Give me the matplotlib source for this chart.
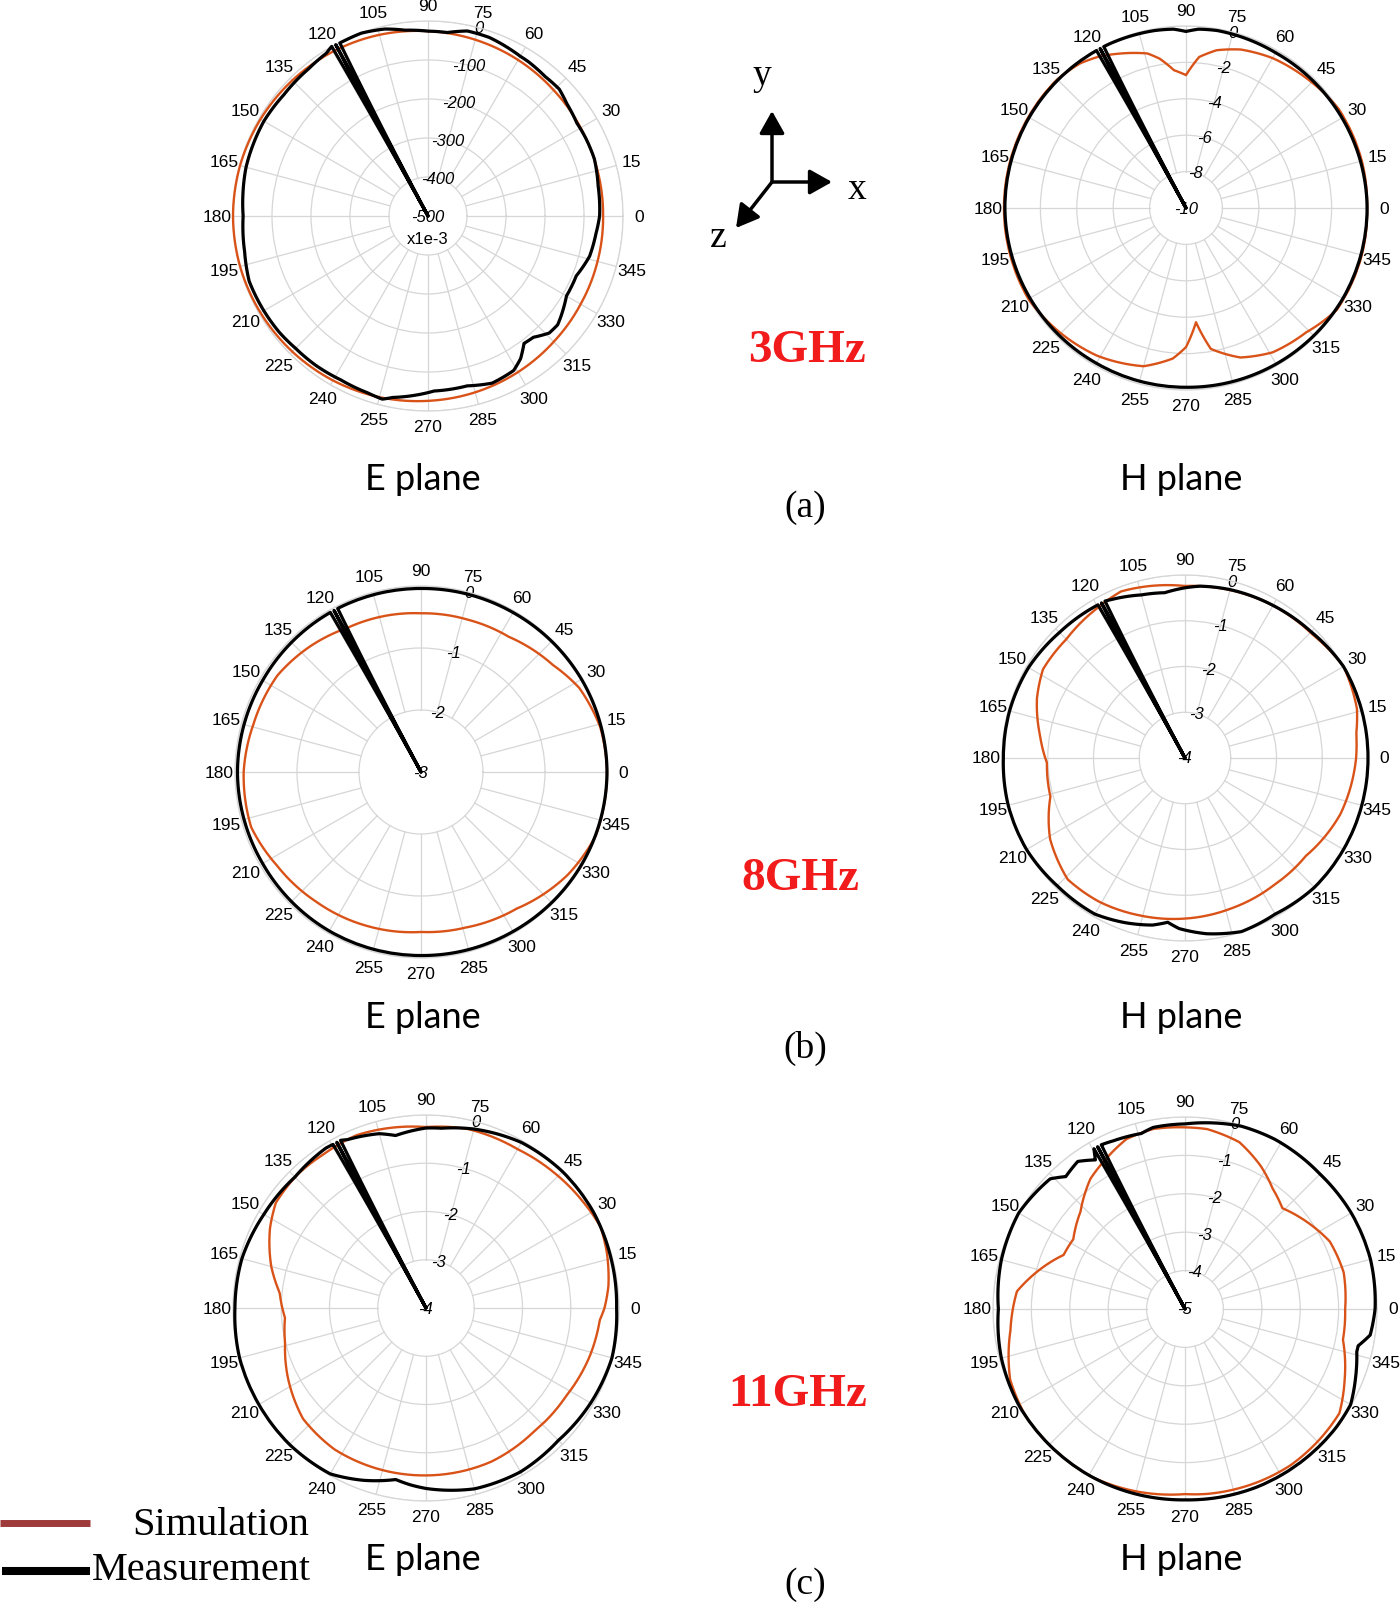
import numpy as np
import matplotlib
matplotlib.use("Agg")
import matplotlib.pyplot as plt
from matplotlib.path import Path
from matplotlib.patches import PathPatch

# =========================
# DATA
# angles in degrees, values in dB (panel (a) E plane in 1e-3 dB)
# =========================
a_e_sim_ang = [0, 15, 30, 45, 60, 75, 90, 105, 120, 135, 150, 165, 180, 195, 210,
               225, 240, 255, 270, 285, 300, 315, 330, 345, 360]
a_e_sim_val = [-51, -50, -48, -44, -38, -32, -26, -19, -13, -8, -4, -1, 0, -1, -4,
               -8, -13, -19, -26, -32, -38, -44, -48, -50, -51]
a_e_meas_ang = [0, 10, 19, 26, 32, 39, 44, 50, 57, 60, 71, 78, 84, 90, 97, 103, 110, 115,
                117, 118, 118.3, 119, 119.6, 122, 129, 140, 150, 165, 173, 180,
                191, 200, 210, 218, 225, 233, 242, 251, 256, 259, 272, 283, 291, 299,
                303, 307, 311, 316, 320, 323, 330, 338, 346, 354, 360]
a_e_meas_val = [-60, -57, -49, -49, -50, -42, -32, -33, -28, -27, -16, -15, -27, -26, -20, -8, -1, -2,
                -2, -500, -1, -500, 0, -8, -14, -17, -14, -17, -22, -26,
                -21, -12, -14, -16, -20, -21, -24, -21, -16, -26, -51, -53, -41, -47,
                -64, -91, -88, -68, -66, -73, -90, -90, -73, -67, -60]

a_h_sim_ang = [0, 15, 33, 47, 60, 71, 79, 85, 90, 95, 100, 104, 109, 113, 120, 126, 135,
               150, 165, 180, 195, 210, 226, 239, 255, 265, 270, 275, 280, 290, 301, 314,
               326, 345, 360]
a_h_sim_val = [-0.05, 0, 0, -0.27, -0.49, -0.79, -1.17, -1.67, -2.7, -2.4, -1.67, -1.25,
               -0.99, -0.78, -0.4, -0.16, 0, 0, 0, 0, 0, 0, -0.29, -0.53, -1.0, -1.7, -2.36,
               -3.7, -2.14, -1.26, -0.75, -0.5, 0, 0, -0.05]
a_h_meas_ang = [0, 30, 60, 80, 86, 90, 94, 100, 115, 117, 118, 118.3, 119, 119.6, 135,
                150, 180, 210, 240, 270, 300, 330, 360]
a_h_meas_val = [-0.05, -0.1, -0.15, -0.1, -0.15, -0.3, -0.15, -0.1, -0.05, -0.05, -10,
                -0.05, -10, -0.05, -0.05, -0.05, -0.05, -0.1, -0.15, -0.15, -0.1, -0.05, -0.05]

b_e_sim_ang = [0, 14, 28, 39, 57, 73, 90, 117, 131, 146, 164, 180, 198, 213, 231, 251,
               270, 286, 305, 325, 340, 350, 360]
b_e_sim_val = [0, -0.02, -0.11, -0.26, -0.40, -0.43, -0.44, -0.39, -0.30, -0.21, -0.19,
               -0.14, -0.12, -0.23, -0.31, -0.37, -0.42, -0.39, -0.31, -0.11, 0, 0, 0]
b_e_meas_ang = [0, 30, 60, 90, 115, 117, 118, 118.3, 119, 119.6, 150, 180, 210, 240,
                270, 300, 330, 360]
b_e_meas_val = [0, -0.01, -0.03, -0.04, -0.04, -0.04, -3, -0.04, -3, -0.04, -0.05,
                -0.04, -0.05, -0.04, -0.04, -0.03, -0.01, 0]

b_h_sim_ang = [0, 8, 16, 30, 44, 60, 75, 90, 111, 121, 135, 148, 158, 171, 182, 196,
               211, 226, 239, 254, 270, 287, 305, 321, 340, 354, 360]
b_h_sim_val = [-0.26, -0.22, -0.09, 0, -0.12, -0.15, -0.20, -0.24, -0.10, -0.21, -0.33,
               -0.34, -0.51, -0.79, -0.98, -0.94, -0.56, -0.31, -0.34, -0.42, -0.49,
               -0.56, -0.61, -0.6, -0.39, -0.30, -0.26]
b_h_meas_ang = [0, 15, 30, 45, 60, 75, 85, 90, 97, 105, 115, 117, 118, 118.3, 119, 119.6,
                135, 150, 165, 180, 195, 210, 225, 240, 250, 259, 264, 268, 277, 288,
                300, 315, 330, 345, 360]
b_h_meas_val = [0, 0, 0, -0.1, -0.15, -0.19, -0.23, -0.28, -0.36, -0.31, -0.18, -0.15,
                -4, -0.15, -4, -0.15, -0.12, -0.05, -0.03, -0.03, 0, 0, -0.05, -0.06,
                -0.17, -0.28, -0.39, -0.27, -0.13, -0.01, -0.06, 0, 0, 0, 0]

c_e_sim_ang = [0, 7, 17, 25, 34, 47, 60, 77, 90, 102, 112, 123, 134, 145, 153, 165, 174,
               184, 194, 207, 222, 237, 253, 270, 293, 311, 328, 344, 356, 360]
c_e_sim_val = [-0.3, -0.19, -0.08, -0.01, -0.07, -0.14, -0.20, -0.19, -0.25, -0.19,
               -0.14, -0.17, -0.16, -0.20, -0.37, -0.68, -0.95, -1.07, -0.99, -0.79,
               -0.57, -0.51, -0.52, -0.53, -0.54, -0.60, -0.57, -0.46, -0.39, -0.3]
c_e_meas_ang = [0, 15, 30, 45, 60, 75, 85, 90, 100, 105, 115, 117, 118, 118.3, 119, 119.6,
                122, 135, 150, 165, 180, 195, 210, 225, 240, 250, 260, 265, 270, 285,
                300, 315, 330, 345, 360]
c_e_meas_val = [-0.05, -0.03, 0, 0, -0.04, -0.16, -0.26, -0.27, -0.37, -0.26, -0.15,
                -0.1, -4, -0.1, -4, -0.1, -0.09, -0.16, -0.12, -0.05, -0.04, 0, 0, 0,
                -0.03, -0.2, -0.39, -0.32, -0.26, -0.12, -0.08, -0.12, -0.06, -0.01, -0.05]

c_h_sim_ang = [0, 13, 25, 36, 46, 54, 62, 72, 83, 90, 100, 109, 118, 126, 137, 148, 156,
               166, 174, 187, 202, 214, 227, 241, 256, 270, 277, 293, 304, 316, 326, 336,
               349, 360]
c_h_sim_val = [-0.83, -0.76, -0.84, -1.11, -1.35, -1.12, -0.79, -0.43, -0.28, -0.27,
               -0.24, -0.32, -0.59, -0.81, -1.28, -1.57, -1.54, -1.02, -0.6, -0.42, -0.09,
               0, 0, 0, -0.09, -0.18, -0.15, -0.11, -0.09, -0.12, -0.15, -0.45, -0.81, -0.83]
c_h_meas_ang = [0, 15, 30, 45, 62, 73, 90, 100, 104, 113, 117, 118, 118.3, 119, 119.6,
                121, 126, 132, 136, 150, 165, 180, 195, 210, 240, 270, 292, 309, 322,
                330, 338, 346, 348, 352, 360]
c_h_meas_val = [-0.05, 0, 0, -0.03, 0, -0.02, -0.18, -0.2, -0.29, -0.24, -0.2, -5, -0.2,
                -5, -0.2, -0.47, -0.25, -0.36, -0.12, 0, -0.05, -0.14, -0.05, 0, 0, -0.03,
                0, 0, 0, -0.02, -0.21, -0.39, -0.39, -0.13, -0.05]

theta_labels = [str(a) for a in range(0, 360, 15)]
freq_labels = ["3GHz", "8GHz", "11GHz"]
row_labels = ["(a)", "(b)", "(c)"]

# =========================
# STYLE
# =========================
W, H = 1400, 1608
GRID = "#d6d6d6"
SIM = "#D95319"
MEAS = "black"
SANS = "Liberation Sans"
SERIF = "Liberation Serif"

fig = plt.figure(figsize=(W / 100, H / 100), dpi=100)

over = fig.add_axes([0, 0, 1, 1])
over.set_xlim(0, W)
over.set_ylim(H, 0)
over.axis("off")


def polar_curve(ax, ang, val, color, lw, z):
    # path drawn in data space so the polar transform bends segments into arcs
    verts = np.column_stack([np.deg2rad(ang), val])
    path = Path(verts, _interpolation_steps=40)
    patch = PathPatch(path, fill=False, edgecolor=color, lw=lw, zorder=z,
                      transform=ax.transData, clip_on=False, joinstyle="round")
    ax.add_patch(patch)


def polar_panel(cx, cy, R, rmin, rstep, sim_ang, sim_val, meas_ang, meas_val, note=None):
    ax = fig.add_axes([(cx - R) / W, 1 - (cy + R) / H, 2 * R / W, 2 * R / H],
                      projection="polar")
    ax.set_facecolor("none")
    ax.set_ylim(rmin, 0)
    ticks = np.arange(rmin, rstep / 2, rstep)
    ax.set_yticks(ticks)
    ax.set_yticklabels([])
    ax.yaxis.grid(True, color=GRID, lw=0.9)
    ax.set_xticks(np.deg2rad(np.arange(0, 360, 15)))
    ax.set_xticklabels(theta_labels, fontsize=12.5, fontfamily=SANS)
    ax.xaxis.grid(False)
    ax.tick_params(axis="x", pad=1)
    ax.spines["polar"].set_color(GRID)
    ax.spines["polar"].set_linewidth(0.9)

    # spokes start at the first ring
    for a in range(0, 360, 15):
        ax.plot([np.deg2rad(a)] * 2, [rmin + rstep, 0], color=GRID, lw=0.9, zorder=1)

    # italic radial labels along 75 deg
    for t in ticks:
        ax.text(np.deg2rad(75), t, "%g" % t, ha="center", va="center",
                fontsize=12, fontstyle="italic", fontfamily=SANS, zorder=2)
    if note:
        ax.text(0.5, 0.5 - 22 / (2 * R), note, transform=ax.transAxes,
                ha="center", va="center", fontsize=12, fontfamily=SANS)

    polar_curve(ax, sim_ang, sim_val, SIM, 1.7, 3)
    polar_curve(ax, meas_ang, meas_val, MEAS, 2.3, 4)
    ax.set_ylim(rmin, 0)
    return ax


polar_panel(428, 217, 195, -500, 100, a_e_sim_ang, a_e_sim_val, a_e_meas_ang, a_e_meas_val, "x1e-3")
polar_panel(1186, 209, 182, -10, 2, a_h_sim_ang, a_h_sim_val, a_h_meas_ang, a_h_meas_val)
polar_panel(421, 773, 186, -3, 1, b_e_sim_ang, b_e_sim_val, b_e_meas_ang, b_e_meas_val)
polar_panel(1185, 759, 183, -4, 1, b_h_sim_ang, b_h_sim_val, b_h_meas_ang, b_h_meas_val)
polar_panel(426, 1309, 193, -4, 1, c_e_sim_ang, c_e_sim_val, c_e_meas_ang, c_e_meas_val)
polar_panel(1185, 1310, 192, -5, 1, c_h_sim_ang, c_h_sim_val, c_h_meas_ang, c_h_meas_val)

# =========================
# TEXT AROUND THE PANELS
# =========================
plane_y = [479, 1018, 1560]
for y in plane_y:
    over.text(423, y, "E plane", ha="center", va="center", fontsize=26, fontfamily="Lato")
    over.text(1181, y, "H plane", ha="center", va="center", fontsize=26, fontfamily="Lato")

for lab, y in zip(row_labels, [508, 1048, 1585]):
    over.text(805, y, lab, ha="center", va="center", fontsize=27, fontfamily=SERIF)

for lab, (x, y) in zip(freq_labels, [(807, 351), (800, 879), (798, 1395)]):
    over.text(x, y, lab, ha="center", va="center", fontsize=34, fontfamily=SERIF,
              fontweight="bold", color="#F21B1B")

# coordinate icon
arrow = dict(arrowstyle="-|>,head_length=0.8,head_width=0.45", color="k", lw=2.5,
             mutation_scale=17, shrinkA=0, shrinkB=0)
origin = (772, 183)
over.annotate("", xy=(772, 112), xytext=origin, arrowprops=arrow)
over.annotate("", xy=(832, 183), xytext=origin, arrowprops=arrow)
over.annotate("", xy=(736, 229), xytext=origin, arrowprops=arrow)
over.text(762, 76, "y", ha="center", va="center", fontsize=27, fontfamily=SERIF)
over.text(857, 190, "x", ha="center", va="center", fontsize=27, fontfamily=SERIF)
over.text(718, 238, "z", ha="center", va="center", fontsize=27, fontfamily=SERIF)

# legend
over.plot([0, 90], [1524, 1524], color="#9E3A3A", lw=5, solid_capstyle="butt")
over.plot([2, 90], [1572, 1572], color="black", lw=5.8, solid_capstyle="butt")
over.text(309, 1535, "Simulation", ha="right", va="baseline", fontsize=29, fontfamily=SERIF)
over.text(311, 1580, "Measurement", ha="right", va="baseline", fontsize=29, fontfamily=SERIF)

fig.savefig("out.png", dpi=100, facecolor="white")
